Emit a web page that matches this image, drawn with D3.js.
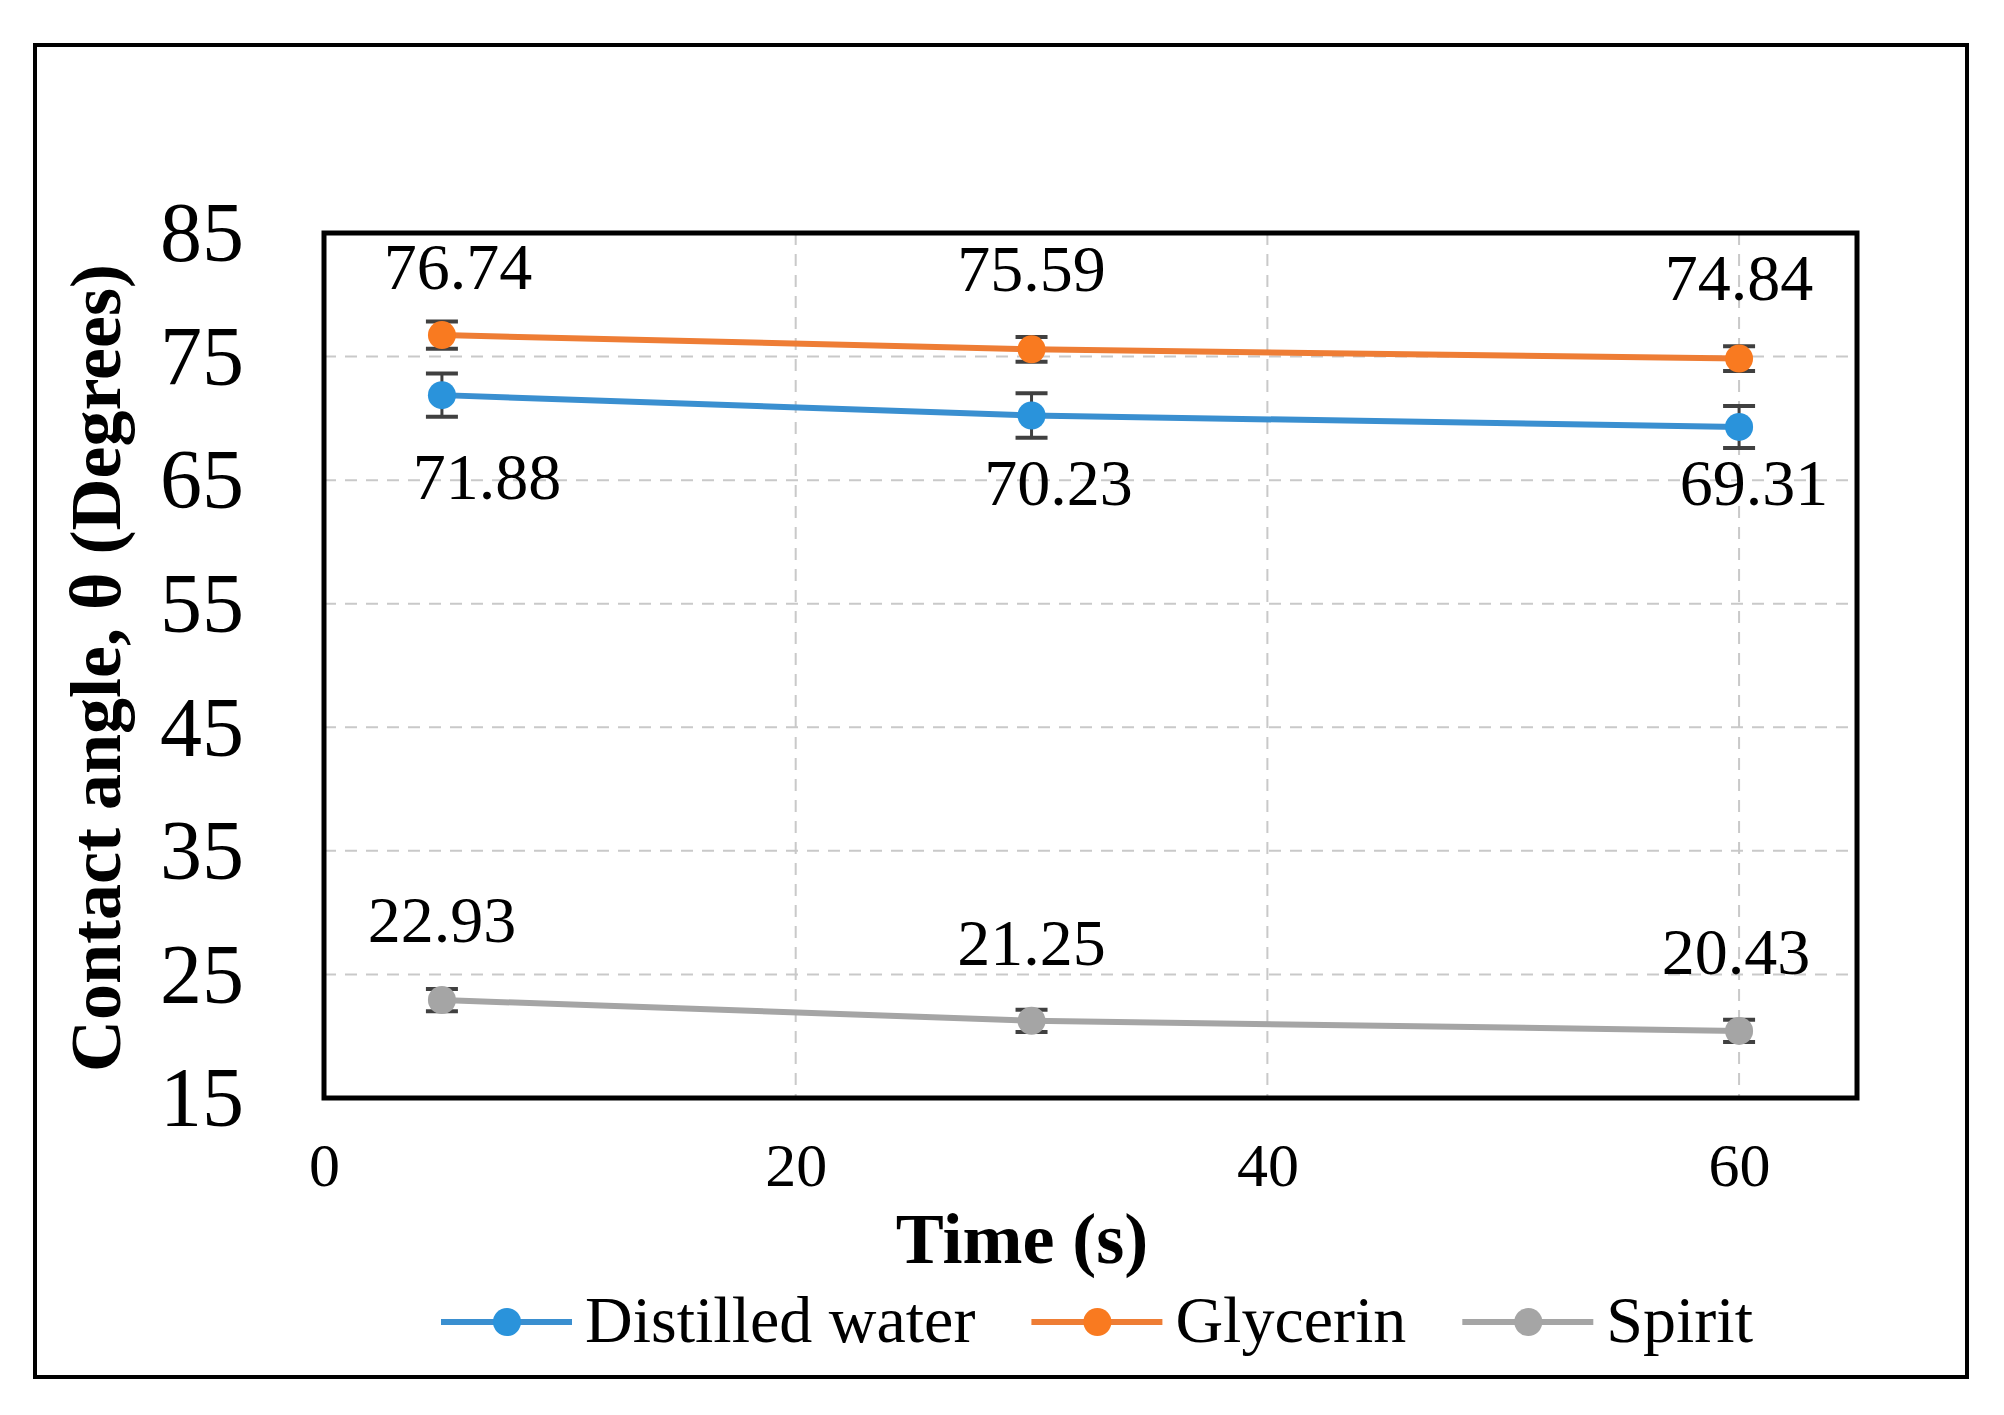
<!DOCTYPE html>
<html>
<head>
<meta charset="utf-8">
<script src="https://cdn.jsdelivr.net/npm/d3@7/dist/d3.min.js"></script>
<style>
  html, body { margin: 0; padding: 0; background: #fff; }
  svg { display: block; }
  text { font-family: "Liberation Serif", "Times New Roman", serif; fill: #000; }
</style>
</head>
<body>
<svg id="chart" width="2004" height="1415"></svg>
<script>
// ---- data ----
const times = [5, 30, 60];
const seriesNames = ["Distilled water", "Glycerin", "Spirit"];
const waterValues = [71.88, 70.23, 69.31];
const glycerinValues = [76.74, 75.59, 74.84];
const spiritValues = [22.93, 21.25, 20.43];
const waterErrors = [1.75, 1.8, 1.7];
const glycerinErrors = [1.1, 1.0, 1.0];
const spiritErrors = [0.9, 0.9, 0.9];
const yTickValues = [15, 25, 35, 45, 55, 65, 75, 85];
const xTickValues = [0, 20, 40, 60];
const xTitle = "Time (s)";
const yTitle = "Contact angle, \u03b8 (Degrees)";

// ---- styling / layout ----
const lineColors = ["#3A8FD0", "#EE7D35", "#A5A5A5"];
const markerColors = ["#2A93DB", "#F97A20", "#A5A5A5"];
// data-label offsets (px) relative to each point
const labelOffsets = [
  [[45, 82], [27, 68], [15, 56]],
  [[16, -68], [0, -80], [0, -80]],
  [[0, -80], [0, -78], [-3, -79]]
];

const series = [
  { name: seriesNames[0], values: waterValues, errors: waterErrors },
  { name: seriesNames[1], values: glycerinValues, errors: glycerinErrors },
  { name: seriesNames[2], values: spiritValues, errors: spiritErrors }
];

const svg = d3.select("#chart");
const plot = { left: 324, right: 1857, top: 233, bottom: 1098 };

const x = d3.scaleLinear().domain([0, 65]).range([plot.left, plot.right]);
const y = d3.scaleLinear().domain([15, 85]).range([plot.bottom, plot.top]);

// outer frame
svg.append("rect")
  .attr("x", 35).attr("y", 45).attr("width", 1932).attr("height", 1332)
  .attr("fill", "none").attr("stroke", "#000").attr("stroke-width", 4);

// gridlines
const grid = svg.append("g");
grid.selectAll("line.h").data(yTickValues.filter(v => v > 15 && v < 85)).join("line")
  .attr("x1", plot.left).attr("x2", plot.right)
  .attr("y1", d => y(d)).attr("y2", d => y(d))
  .attr("stroke", "#c9c9c9").attr("stroke-width", 2).attr("stroke-dasharray", "12,9");
grid.selectAll("line.v").data(xTickValues.filter(v => v > 0)).join("line")
  .attr("y1", plot.top).attr("y2", plot.bottom)
  .attr("x1", d => x(d)).attr("x2", d => x(d))
  .attr("stroke", "#c9c9c9").attr("stroke-width", 2).attr("stroke-dasharray", "12,9");

// axes (labels only)
const yAxis = d3.axisLeft(y).tickValues(yTickValues).tickSize(0).tickPadding(0);
const gy = svg.append("g").attr("transform", `translate(244,0)`).call(yAxis);
gy.select(".domain").remove();
gy.selectAll("text").attr("font-size", 84).attr("dy", "0.33em")
  .style("font-family", "'Liberation Serif', serif").attr("fill", "#000");

const xAxis = d3.axisBottom(x).tickValues(xTickValues).tickSize(0).tickPadding(0);
const gx = svg.append("g").attr("transform", `translate(0,1166)`).call(xAxis);
gx.select(".domain").remove();
gx.selectAll("text").attr("font-size", 62).attr("dy", "0.33em").attr("y", 0)
  .style("font-family", "'Liberation Serif', serif").attr("fill", "#000");

// plot border
svg.append("rect")
  .attr("x", plot.left).attr("y", plot.top)
  .attr("width", plot.right - plot.left).attr("height", plot.bottom - plot.top)
  .attr("fill", "none").attr("stroke", "#000").attr("stroke-width", 5);

// axis titles
svg.append("text")
  .attr("x", 1022).attr("y", 1263)
  .attr("text-anchor", "middle").attr("font-size", 72).attr("font-weight", "bold")
  .text(xTitle);
svg.append("text")
  .attr("transform", "translate(120,668) rotate(-90)")
  .attr("text-anchor", "middle").attr("font-size", 72).attr("font-weight", "bold")
  .text(yTitle);

// series
const line = d3.line().x((d, i) => x(times[i])).y(d => y(d));
series.forEach((s, si) => {
  const g = svg.append("g");
  g.append("path").datum(s.values)
    .attr("d", line).attr("fill", "none")
    .attr("stroke", lineColors[si]).attr("stroke-width", 6);
  // error bars
  s.values.forEach((v, i) => {
    const cx = x(times[i]);
    const e = s.errors[i];
    g.append("line").attr("x1", cx).attr("x2", cx).attr("y1", y(v + e)).attr("y2", y(v - e))
      .attr("stroke", "#404040").attr("stroke-width", 3);
    [v + e, v - e].forEach(ev => {
      g.append("line").attr("x1", cx - 16).attr("x2", cx + 16).attr("y1", y(ev)).attr("y2", y(ev))
        .attr("stroke", "#404040").attr("stroke-width", 4);
    });
  });
  g.selectAll("circle").data(s.values).join("circle")
    .attr("cx", (d, i) => x(times[i])).attr("cy", d => y(d)).attr("r", 14)
    .attr("fill", markerColors[si]);
  g.selectAll("text").data(s.values).join("text")
    .attr("x", (d, i) => x(times[i]) + labelOffsets[si][i][0])
    .attr("y", (d, i) => y(d) + labelOffsets[si][i][1])
    .attr("dy", "0.33em")
    .attr("text-anchor", "middle").attr("font-size", 66)
    .text(d => d.toFixed(2));
});

// legend
const legend = svg.append("g");
let lx = 441;
const ly = 1322;
series.forEach((s, si) => {
  legend.append("line").attr("x1", lx).attr("x2", lx + 131).attr("y1", ly).attr("y2", ly)
    .attr("stroke", lineColors[si]).attr("stroke-width", 6);
  legend.append("circle").attr("cx", lx + 66).attr("cy", ly).attr("r", 14).attr("fill", markerColors[si]);
  const t = legend.append("text").attr("x", lx + 144).attr("y", 1342)
    .attr("font-size", 66).text(s.name);
  const w = t.node().getComputedTextLength();
  lx = lx + 144 + w + 56;
});
</script>
</body>
</html>
